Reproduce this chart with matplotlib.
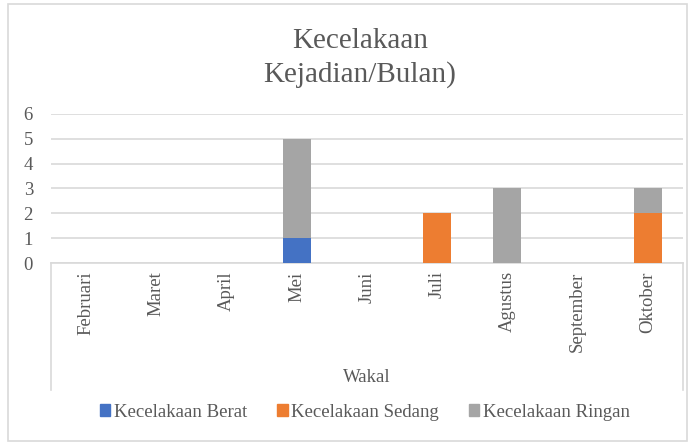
import numpy as np
import matplotlib.pyplot as plt
from matplotlib.patches import Rectangle
from matplotlib.lines import Line2D

# data
months = ["Februari", "Maret", "April", "Mei", "Juni", "Juli", "Agustus", "September", "Oktober"]
berat = [0, 0, 0, 1, 0, 0, 0, 0, 0]
sedang = [0, 0, 0, 0, 0, 2, 0, 0, 2]
ringan = [0, 0, 0, 4, 0, 0, 3, 0, 1]
series_names = ["Kecelakaan Berat", "Kecelakaan Sedang", "Kecelakaan Ringan"]
colors = ["#4472C4", "#ED7D31", "#A5A5A5"]

plt.rcParams["font.family"] = ["Liberation Serif", "DejaVu Serif"]
text_col = "#595959"
grid_col = "#D9D9D9"

fig = plt.figure(figsize=(6.94, 4.44), dpi=100)
W, H = 694, 444
ax = fig.add_axes([51 / W, 1 - 263 / H, (683 - 51) / W, (263 - 114) / H])

x = np.arange(len(months))
berat = np.array(berat)
sedang = np.array(sedang)
ringan = np.array(ringan)
ax.bar(x, berat, width=0.4, color=colors[0], zorder=3)
ax.bar(x, sedang, width=0.4, bottom=berat, color=colors[1], zorder=3)
ax.bar(x, ringan, width=0.4, bottom=berat + sedang, color=colors[2], zorder=3)

ax.set_xlim(-0.5, len(months) - 0.5)
ax.set_ylim(0, 6)
ax.set_yticks(range(7))
ax.yaxis.grid(True, color=grid_col, linewidth=1.2, zorder=0)
ax.set_xticks(x)
ax.set_xticklabels(months, rotation=90, va="top", ha="center")
ax.tick_params(axis="both", length=0, labelsize=13.5, colors=text_col)
ax.tick_params(axis="y", pad=13)
ax.tick_params(axis="x", pad=6)
for s in ["left", "right", "top"]:
    ax.spines[s].set_visible(False)
ax.spines["bottom"].set_color(grid_col)
ax.spines["bottom"].set_linewidth(1.2)

# category axis box lines
for xp in [51, 683]:
    fig.add_artist(Line2D([xp / W, xp / W], [1 - 263 / H, 1 - 390 / H],
                          color=grid_col, linewidth=1.2))

fig.text(367 / W, 1 - 378 / H, "Wakal", ha="center", va="center", fontsize=13.5, color=text_col)
fig.text(360 / W, 1 - 58 / H, "Kecelakaan\nKejadian/Bulan)", ha="center", va="center",
         fontsize=21, color=text_col, linespacing=1.3)

handles = [Rectangle((0, 0), 1, 1, color=c) for c in colors]
fig.legend(handles, series_names, loc="center", bbox_to_anchor=(365 / W, 1 - 412 / H),
           ncol=3, frameon=False, fontsize=13.5, handlelength=0.55, handleheight=0.55,
           handletextpad=0.2, columnspacing=1.6, labelcolor=text_col)

# outer chart border
fig.add_artist(Rectangle((8 / W, 1 - 441 / H), (687 - 8) / W, (441 - 4) / H,
                         fill=False, edgecolor=grid_col, linewidth=1.2,
                         transform=fig.transFigure))

fig.savefig("out.png", dpi=100)
